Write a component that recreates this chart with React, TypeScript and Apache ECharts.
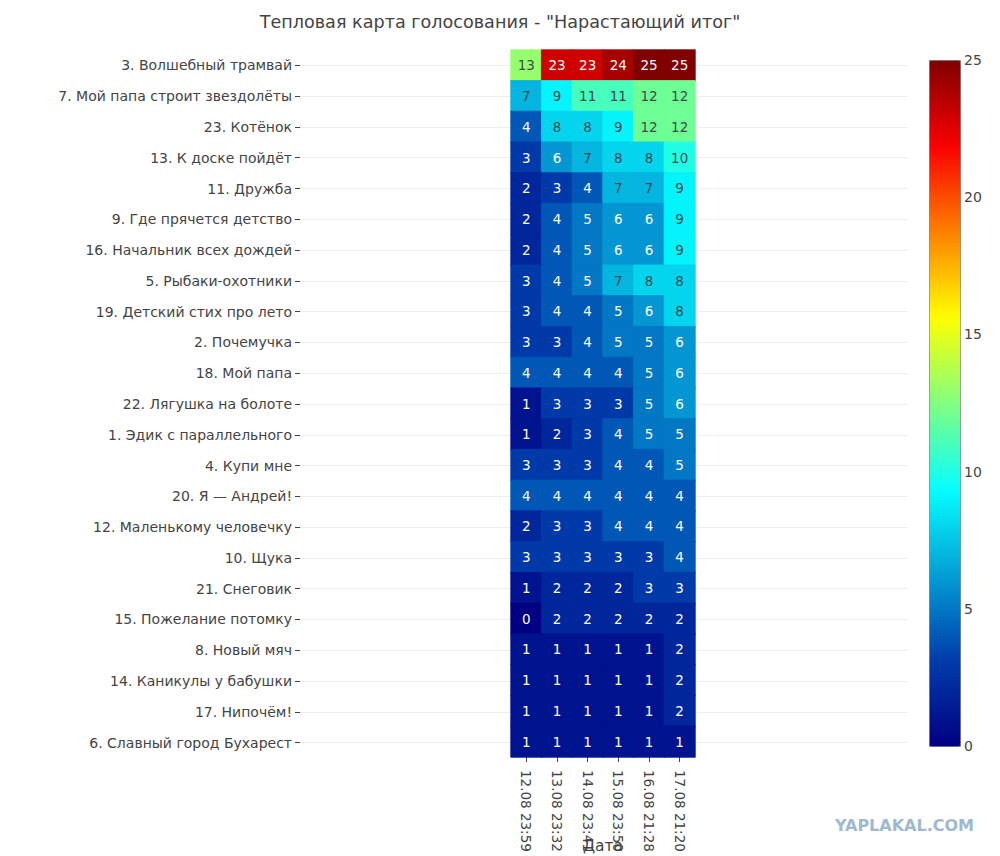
import React, { useEffect, useRef } from "react";
import * as echarts from "echarts";

const titleText = 'Тепловая карта голосования - "Нарастающий итог"';
const xAxisName = "Дата";

const dates = [
  "12.08 23:59",
  "13.08 23:32",
  "14.08 23:41",
  "15.08 23:50",
  "16.08 21:28",
  "17.08 21:20",
];

const songs = [
  "3. Волшебный трамвай",
  "7. Мой папа строит звездолёты",
  "23. Котёнок",
  "13. К доске пойдёт",
  "11. Дружба",
  "9. Где прячется детство",
  "16. Начальник всех дождей",
  "5. Рыбаки-охотники",
  "19. Детский стих про лето",
  "2. Почемучка",
  "18. Мой папа",
  "22. Лягушка на болоте",
  "1. Эдик с параллельного",
  "4. Купи мне",
  "20. Я — Андрей!",
  "12. Маленькому человечку",
  "10. Щука",
  "21. Снеговик",
  "15. Пожелание потомку",
  "8. Новый мяч",
  "14. Каникулы у бабушки",
  "17. Нипочём!",
  "6. Славный город Бухарест",
];

// cumulative votes per song, one value per date
const votesBySong: number[][] = [
  [13, 23, 23, 24, 25, 25],
  [7, 9, 11, 11, 12, 12],
  [4, 8, 8, 9, 12, 12],
  [3, 6, 7, 8, 8, 10],
  [2, 3, 4, 7, 7, 9],
  [2, 4, 5, 6, 6, 9],
  [2, 4, 5, 6, 6, 9],
  [3, 4, 5, 7, 8, 8],
  [3, 4, 4, 5, 6, 8],
  [3, 3, 4, 5, 5, 6],
  [4, 4, 4, 4, 5, 6],
  [1, 3, 3, 3, 5, 6],
  [1, 2, 3, 4, 5, 5],
  [3, 3, 3, 4, 4, 5],
  [4, 4, 4, 4, 4, 4],
  [2, 3, 3, 4, 4, 4],
  [3, 3, 3, 3, 3, 4],
  [1, 2, 2, 2, 3, 3],
  [0, 2, 2, 2, 2, 2],
  [1, 1, 1, 1, 1, 2],
  [1, 1, 1, 1, 1, 2],
  [1, 1, 1, 1, 1, 2],
  [1, 1, 1, 1, 1, 1],
];

const scaleMin = 0;
const scaleMax = 25;
const scaleStep = 5;

// Jet colour scale sampled every 1/8
const jetColors = [
  "rgb(0,0,131)",
  "rgb(0,60,170)",
  "rgb(3,158,213)",
  "rgb(5,255,255)",
  "rgb(130,255,128)",
  "rgb(255,255,0)",
  "rgb(253,128,0)",
  "rgb(250,0,0)",
  "rgb(128,0,0)",
];

const FONT = "DejaVu Sans";

export default function App() {
  const ref = useRef<HTMLDivElement>(null);

  useEffect(() => {
    document.body.style.margin = "0";
    if (!ref.current) return;
    const chart = echarts.init(ref.current, undefined, { renderer: "svg" });

    const heatData: any[] = [];
    votesBySong.forEach((row, yi) => {
      row.forEach((v, xi) => {
        const dark = v >= 7 && v <= 20;
        const t = (v - scaleMin) / (scaleMax - scaleMin);
        heatData.push({
          value: [xi, yi, v],
          label: { color: dark ? "#3d4a4f" : "#ffffff" },
          // border in the cell's own colour hides anti-aliasing seams
          itemStyle: {
            borderColor: echarts.color.lerp(t, jetColors),
            borderWidth: 0.8,
          },
        });
      });
    });

    const option: any = {
      animation: false,
      textStyle: { fontFamily: FONT },
      title: {
        text: titleText,
        left: "center",
        top: 8,
        textStyle: {
          fontFamily: FONT,
          fontSize: 17.6,
          fontWeight: "normal",
          color: "#444",
        },
      },
      grid: [
        // background grid with row gridlines and labels
        {
          left: 300,
          width: 608,
          top: 65.4,
          height: 677.2,
          containLabel: false,
          outerBoundsMode: "none",
        },
        // heatmap cells
        {
          left: 511,
          width: 184,
          top: 50,
          height: 707,
          containLabel: false,
          outerBoundsMode: "none",
        },
        // colour bar scale
        {
          left: 929,
          width: 31,
          top: 60,
          height: 686,
          containLabel: false,
          outerBoundsMode: "none",
        },
      ],
      xAxis: [
        { type: "value", gridIndex: 0, show: false, min: 0, max: 1 },
        {
          type: "category",
          gridIndex: 1,
          data: dates,
          axisLine: { show: false },
          axisTick: {
            show: true,
            alignWithLabel: true,
            length: 5,
            lineStyle: { color: "#444" },
          },
          axisLabel: {
            rotate: -90,
            margin: 13,
            fontSize: 13.5,
            color: "#444",
            fontFamily: FONT,
          },
          splitLine: { show: false },
          name: xAxisName,
          nameLocation: "middle",
          nameGap: 81,
          nameMoveOverlap: false,
          nameTextStyle: { fontSize: 15.5, color: "#444", fontFamily: FONT },
        },
        { type: "value", gridIndex: 2, show: false, min: 0, max: 1 },
      ],
      yAxis: [
        {
          type: "category",
          gridIndex: 0,
          data: songs,
          inverse: true,
          boundaryGap: false,
          axisLine: { show: false },
          axisTick: { show: true, length: 5, lineStyle: { color: "#444" } },
          axisLabel: {
            margin: 8,
            fontSize: 14,
            color: "#444",
            fontFamily: FONT,
          },
          splitLine: { show: true, lineStyle: { color: "#eeeeee", width: 1 } },
        },
        {
          type: "category",
          gridIndex: 1,
          data: songs,
          inverse: true,
          show: false,
        },
        {
          type: "value",
          gridIndex: 2,
          position: "right",
          min: scaleMin,
          max: scaleMax,
          interval: scaleStep,
          axisLine: { show: false },
          axisTick: { show: false },
          splitLine: { show: false },
          axisLabel: {
            margin: 4,
            fontSize: 14,
            color: "#444",
            fontFamily: FONT,
          },
        },
      ],
      visualMap: {
        type: "continuous",
        seriesIndex: 0,
        min: scaleMin,
        max: scaleMax,
        calculable: false,
        orient: "vertical",
        left: 929,
        top: 60,
        itemWidth: 31,
        itemHeight: 686,
        padding: 0,
        borderWidth: 1,
        borderColor: "#777",
        inRange: { color: jetColors },
        text: null,
        showLabel: false,
      },
      graphic: [
        {
          type: "text",
          right: 26,
          top: 817,
          style: {
            text: "YAPLAKAL.COM",
            fill: "#9dbad0",
            font: `bold 16px ${FONT}`,
          },
        },
      ],
      series: [
        {
          type: "heatmap",
          xAxisIndex: 1,
          yAxisIndex: 1,
          data: heatData,
          label: {
            show: true,
            fontSize: 13.5,
            fontFamily: FONT,
          },
          emphasis: { disabled: true },
        },
      ],
    };

    chart.setOption(option);
    return () => chart.dispose();
  }, []);

  return <div ref={ref} style={{ width: 1000, height: 856 }} />;
}
